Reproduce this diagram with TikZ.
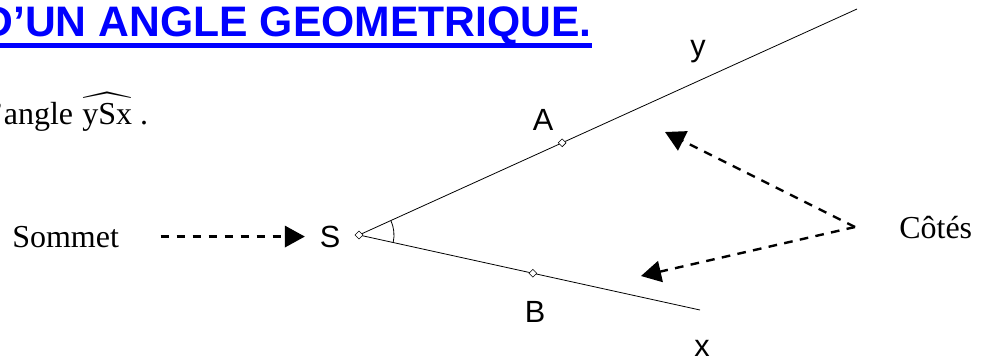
\documentclass[tikz,border=0pt]{standalone}
\usepackage{fontspec}
\setmainfont{Liberation Serif}
\setsansfont{Liberation Sans}
\usepackage{amsmath}
\usepackage{xcolor}
\definecolor{titleblue}{HTML}{0000FF}
\usepackage{tikz}
\usetikzlibrary{positioning, arrows.meta, shapes.geometric, calc}
\tikzset{
    ray/.style = {line width=0.6pt, color=black},
    pt/.style = {diamond, draw, fill=white, line width=0.4pt,
                 inner sep=0pt, minimum size=6pt},
    lbl/.style = {font=\sffamily\fontsize{23}{27}\selectfont, inner sep=0pt, anchor=base},
    txt/.style = {font=\fontsize{24}{28}\selectfont, inner sep=0pt, anchor=base west},
    darrow/.style = {-{Triangle[length=15pt, width=16pt]}, line width=1.8pt,
                     dash pattern=on 6.5pt off 5.5pt},
}

\begin{document}
\begin{tikzpicture}[x=0.75pt, y=-0.75pt]
        \useasboundingbox (0,0) rectangle (985,360);
        % title
        \node[font=\sffamily\bfseries\fontsize{32}{36}\selectfont, color=titleblue,
              inner sep=0pt, anchor=base east] (title) at (592,37) {D'UN ANGLE GEOMETRIQUE.};
        \draw[titleblue, line width=3.4pt] ([yshift=-6.5pt]title.base west) -- ([yshift=-6.5pt]title.base east);
        \node[txt] (intro) at (-16,124) {l'angle\hspace{7pt}$\widehat{\mbox{ySx}}$\hspace{6pt}.};
        % the angle
        \coordinate (S) at (359,235);
        \coordinate (yEnd) at (857,9);
        \coordinate (xEnd) at (700,310);
        \draw[ray] (yEnd) -- (S) -- (xEnd);
        \draw[ray] ([shift={(12.4:35)}]S) arc[start angle=12.4, end angle=-24.4, radius=35];
        \node[pt] (ptS) at (S) {};
        \node[pt] (A) at ($(S)!0.408!(yEnd)$) {};
        \node[pt] (B) at ($(S)!0.51!(xEnd)$) {};
        \node[lbl] (lS) at (330,247) {S};
        \node[lbl] (lA) at (543,130) {A};
        \node[lbl] (lB) at (535,322) {B};
        \node[lbl] (ly) at (698,57) {y};
        \node[lbl] (lx) at (702,356) {x};
        % pointers
        \node[txt] (sommet) at (12,247) {Sommet};
        \node[txt] (cotes) at (899,238) {Côtés};
        \draw[darrow, shorten <=31pt, shorten >=11pt] (sommet.east) -- (sommet.east -| lS.west);
        \coordinate (cOrig) at (855,227);
        \coordinate (tipY) at (665,132);
        \coordinate (tipX) at (641,276);
        \draw[darrow] (cOrig) -- (tipY);
        \draw[darrow] (cOrig) -- (tipX);
      \end{tikzpicture}
\end{document}
